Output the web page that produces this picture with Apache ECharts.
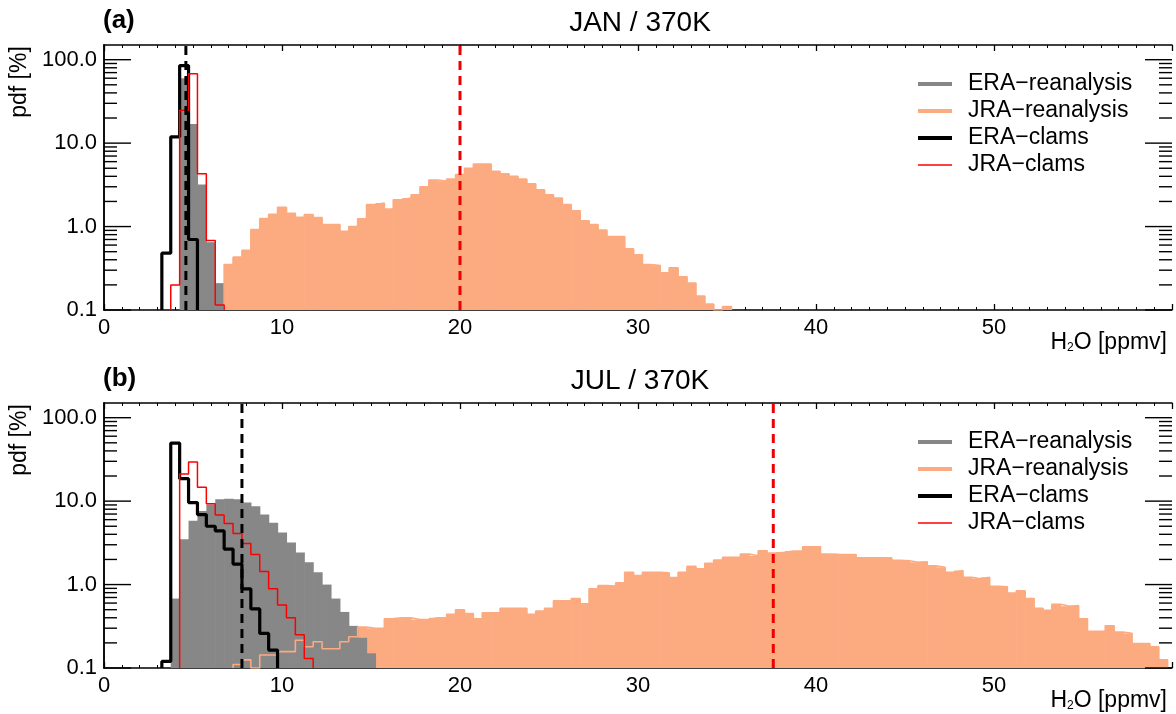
<!DOCTYPE html>
<html><head><meta charset="utf-8">
<script src="https://cdn.jsdelivr.net/npm/echarts@6/dist/echarts.min.js"></script>
<style>html,body{margin:0;padding:0;background:#fff}#c{width:1176px;height:714px}</style>
</head><body><div id="c"></div>
<script>
// ---- data (bin centers start + 0.5 ppmv steps) ----
const BIN = 0.5;
const janEraReanStart = 4.5;
const janEraRean = [60, 17, 3.2, 0.65, 0.21];
const janJraReanStart = 7;
const janJraRean = [0.35,0.43,0.52,0.92,1.25,1.4,
  1.70,1.44,1.29,1.39,1.28,1.06,1.06,0.88,1.0,1.24,1.83,1.92,1.62,2.1,2.2,2.4,3.0,3.6,3.5,3.7,4.2,5.0,5.6,5.6,
  4.6,4.3,4.0,3.7,3.25,2.75,2.4,2.2,1.83,1.55,1.17,1.06,0.91,0.76,0.76,0.54,0.46,0.35,0.34,0.28,0.32,0.25,0.21,0.147,0.118,0.1,0.11];
const janEraClamsStart = 3.5;
const janEraClams = [0.48, 11.9, 85, 0.7];
const janJraClamsStart = 4;
const janJraClams = [0.2, 24.7, 68, 4.3, 0.68, 0.115];
const janMeanEra = 4.6, janMeanJra = 20;

const julEraReanStart = 4;
const julEraRean = [0.68,3.5,5.8,7.6,9.1,10.5,10.7,10.5,9.6,8.7,6.9,5.5,4.2,3.2,2.43,1.85,1.4,1.0,0.68,0.47,0.32,0.23,0.15];
const julJraReanStart = 7.5;
const julJraRean = [0.11,0.125,0.1,0.143,0.143,0.157,0.157,0.215,0.18,0.206,0.17,0.17,0.206,0.237,0.31,0.30,
  0.30,0.39,0.40,0.40,0.38,0.38,0.40,0.40,0.44,0.50,0.45,0.39,0.46,0.46,0.52,0.52,0.52,0.44,0.48,0.52,0.64,0.64,0.68,0.59,
  0.89,0.97,0.96,1.05,1.4,1.28,1.4,1.4,1.38,1.21,1.4,1.66,1.54,1.8,1.97,2.12,2.13,2.32,2.21,2.54,2.38,2.43,2.52,2.52,2.83,2.83,
  2.32,2.3,2.29,2.29,2.1,2.1,2.1,2.1,1.95,1.93,1.85,1.88,1.68,1.61,1.40,1.47,1.22,1.17,1.22,0.95,0.94,0.79,0.84,0.68,0.52,0.49,0.58,0.55,0.56,
  0.39,0.275,0.275,0.32,0.27,0.26,0.197,0.197,0.18,0.125];
const julEraClamsStart = 3.5;
const julEraClams = [0.12,49.6,18.6,9.6,6.9,5.0,4.4,2.66,1.76,0.89,0.51,0.26,0.164];
const julJraClamsStart = 4.5;
const julJraClams = [21.2,29.5,14.7,9.3,6.8,5.4,4.1,3.1,2.3,1.43,0.89,0.57,0.40,0.25,0.13];
const julMeanEra = 7.75, julMeanJra = 37.6;

const xTicks = [0,10,20,30,40,50];
const yTicks = [0.1,1,10,100];
const minorY = [0.2,0.3,0.4,0.5,0.6,0.7,0.8,0.9,2,3,4,5,6,7,8,9,20,30,40,50,60,70,80,90];
const panelTitles = ['JAN / 370K','JUL / 370K'];
const panelTags = ['(a)','(b)'];
const legendNames = ['ERA\u2212reanalysis','JRA\u2212reanalysis','ERA\u2212clams','JRA\u2212clams'];

const BASE = 0.1, YMAX = 150;
const ORANGE = '#fcaa80', GRAY = '#878787';
const FONT = 'Liberation Sans, Arial, sans-serif';

function bins(start, vals){ return vals.map((v,i)=>[start+i*BIN, v]); }
function outline(start, vals){
  const pts = [[start-BIN/2, BASE]];
  vals.forEach((v,i)=>pts.push([start+i*BIN-BIN/2, Math.max(v,BASE)]));
  pts.push([start+vals.length*BIN-BIN/2, BASE]);
  return pts;
}
function barSeries(name, g, data, color){
  return {type:'custom', name, xAxisIndex:g*2, yAxisIndex:g*2, clip:true,
    data, encode:{x:0,y:1},
    renderItem:(p,api)=>{
      const c=api.value(0), v=api.value(1);
      if(v<=BASE) return null;
      const a=api.coord([c-BIN/2, v]), b=api.coord([c+BIN/2, BASE]);
      return {type:'rect', shape:{x:a[0], y:a[1], width:b[0]-a[0]+0.6, height:b[1]-a[1]}, style:{fill:color}};
    }};
}
function lineSeries(name, g, data, color, w, z){
  return {type:'line', name, xAxisIndex:g*2, yAxisIndex:g*2, data, step:'end', symbol:'none',
    lineStyle:{color, width:w}, z:z||3, silent:true, animation:false};
}
function tickSeries(g){
  const d = minorY.map(v=>[v,13]).concat(yTicks.map(v=>[v,27]));
  return {type:'custom', xAxisIndex:g*2, yAxisIndex:g*2, clip:false, z:5,
    data: d.map(e=>[0,e[0],e[1]]),
    renderItem:(p,api)=>{
      const v=api.value(1), len=api.value(2);
      const L=api.coord([0,v]), R=api.coord([60,v]);
      return {type:'group', children:[
        {type:'line', shape:{x1:L[0], y1:L[1], x2:L[0]+len, y2:L[1]}, style:{stroke:'#000', lineWidth:1.4}},
        {type:'line', shape:{x1:R[0], y1:R[1], x2:R[0]-len, y2:R[1]}, style:{stroke:'#000', lineWidth:1.4}}
      ]};
    }};
}
function dashLine(g, x, color){
  return {type:'line', xAxisIndex:g*2, yAxisIndex:g*2, data:[[x,BASE],[x,YMAX]], symbol:'none', z:6,
    lineStyle:{color, width:3, type:[9,6]}, silent:true};
}

const tops = [45, 403];
const H = 265;
const grids = [], xAxes = [], yAxes = [], series = [], graphics = [];
const panels = [
  {er:[janEraReanStart,janEraRean], jr:[janJraReanStart,janJraRean], ec:[janEraClamsStart,janEraClams], jc:[janJraClamsStart,janJraClams], me:janMeanEra, mj:janMeanJra},
  {er:[julEraReanStart,julEraRean], jr:[julJraReanStart,julJraRean], ec:[julEraClamsStart,julEraClams], jc:[julJraClamsStart,julJraClams], me:julMeanEra, mj:julMeanJra}
];
panels.forEach((P,g)=>{
  grids.push({left:104, right:4, top:tops[g], height:H});
  const xBase = {type:'value', min:0, max:60, interval:10, gridIndex:g,
    axisLine:{show:true, onZero:false, lineStyle:{color:'#000', width:1.5}},
    axisTick:{show:true, inside:true, length:6, lineStyle:{color:'#000', width:1.3}},
    minorTick:{show:true, splitNumber:10, length:3, lineStyle:{color:'#000', width:1}},
    splitLine:{show:false}};
  xAxes.push(Object.assign({}, xBase, {position:'bottom',
    axisLabel:{show:true, color:'#000', fontSize:22, fontFamily:FONT, margin:7,
      formatter:v=> xTicks.indexOf(v)>=0 ? String(v) : ''}}));
  xAxes.push(Object.assign({}, xBase, {position:'top', axisLabel:{show:false}}));
  const yBase = {type:'log', logBase:10, min:BASE, max:YMAX, gridIndex:g,
    axisLine:{show:true, lineStyle:{color:'#000', width:1.5}},
    axisTick:{show:false},
    splitLine:{show:false}};
  yAxes.push(Object.assign({}, yBase, {position:'left',
    axisLabel:{show:true, color:'#000', fontSize:22, fontFamily:FONT, margin:7,
      formatter:v=> yTicks.some(t=>Math.abs(t-v)<1e-9) ? v.toFixed(1) : ''}}));
  yAxes.push(Object.assign({}, yBase, {position:'right', axisLabel:{show:false}}));

  series.push(barSeries(legendNames[1], g, bins(P.jr[0],P.jr[1]), ORANGE));
  series.push(barSeries(legendNames[0], g, bins(P.er[0],P.er[1]), GRAY));
  series.push(lineSeries('jo', g, outline(P.jr[0],P.jr[1]), ORANGE, 1.6, 3));
  series.push(lineSeries(legendNames[2], g, outline(P.ec[0],P.ec[1]), '#000', 3.2, 4));
  series.push(lineSeries(legendNames[3], g, outline(P.jc[0],P.jc[1]), '#ff0000', 1.5, 4));
  series.push(tickSeries(g));
  series.push(dashLine(g, P.me, '#000'));
  series.push(dashLine(g, P.mj, '#ee0000'));

  const t = tops[g];
  graphics.push({type:'text', x:103, y:t-24, style:{text:panelTags[g], font:'bold 26px '+FONT, fill:'#000', verticalAlign:'middle'}});
  graphics.push({type:'text', x:640, y:t-22, style:{text:panelTitles[g], font:'28px '+FONT, fill:'#000', align:'center', verticalAlign:'middle'}});
  graphics.push({type:'text', x:20, y:t+37, rotation:Math.PI/2, style:{text:'pdf [%]', font:'23px '+FONT, fill:'#000', align:'center', verticalAlign:'middle'}});
  graphics.push({type:'text', x:1167, y:t+H+33, style:{text:'H{s|2}O [ppmv]', font:'23px '+FONT, fill:'#000', align:'right', verticalAlign:'middle',
    rich:{s:{fontSize:12, fontFamily:FONT, padding:[10,0,0,0], fill:'#000'}}}});
  const cols = [GRAY, ORANGE, '#000', '#ff0000'], ws=[4,4,4,1.6];
  legendNames.forEach((n,i)=>{
    const y = t+39+i*27;
    graphics.push({type:'line', shape:{x1:918, y1:y, x2:952, y2:y}, style:{stroke:cols[i], lineWidth:ws[i]}});
    graphics.push({type:'text', x:968, y:y, style:{text:n, font:'23px '+FONT, fill:'#000', verticalAlign:'middle'}});
  });
});

const chart = echarts.init(document.getElementById('c'), null, {renderer:'canvas'});
chart.setOption({animation:false, grid:grids, xAxis:xAxes, yAxis:yAxes, series, graphic:graphics});
</script></body></html>
